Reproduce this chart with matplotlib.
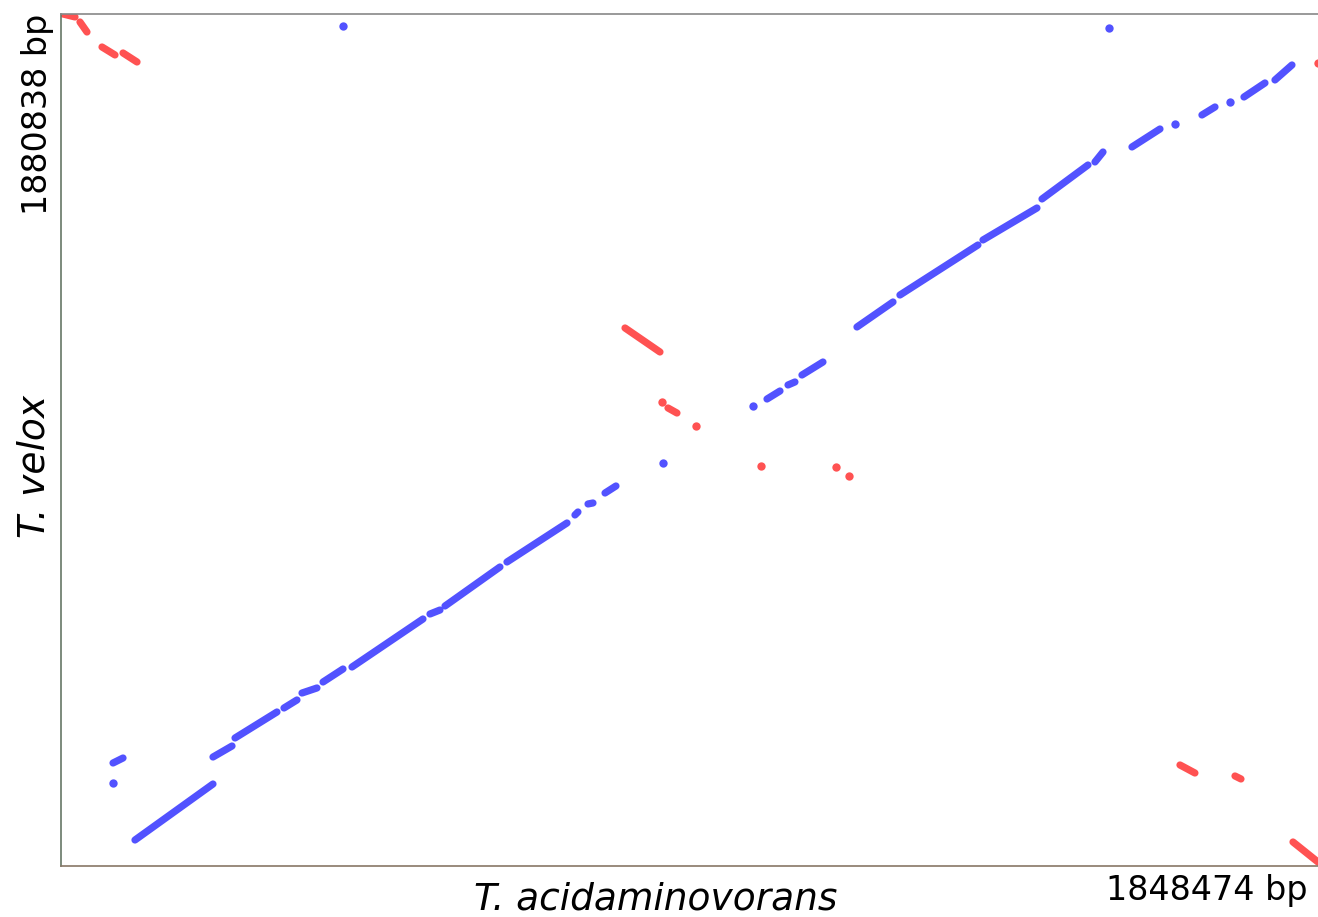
import matplotlib
matplotlib.use("Agg")
import matplotlib.pyplot as plt

# genome lengths (bp)
x_len = 1848474
y_len = 1880838
x_name = "T. acidaminovorans"
y_name = "T. velox"

# forward alignments (blue): x1, y1, x2, y2
fwd_x1 = [108800, 223500, 255900, 327900, 354400, 385300, 427900, 542600, 564700, 655800,
          755800, 775000, 800000, 1038200, 1069100, 1089600, 1170500, 1233700, 1355800, 1442600,
          1520500, 1574900, 1677800, 1739600, 1785200, 76500]
fwd_y1 = [57400, 240600, 282600, 348800, 381900, 406200, 439300, 556300, 574000, 671100,
          774900, 799200, 823400, 1030900, 1061900, 1083900, 1189900, 1260500, 1382000, 1472500,
          1554200, 1587300, 1657900, 1697600, 1735200, 227400]
fwd_x2 = [223500, 251500, 317600, 347000, 376400, 414700, 532300, 557300, 645500, 744100,
          760200, 782300, 816100, 1057300, 1079300, 1120500, 1223500, 1348400, 1435200, 1510200,
          1532300, 1616100, 1697000, 1770500, 1810200, 91200]
fwd_y2 = [181000, 264900, 340000, 366500, 393000, 434900, 545300, 565100, 660100, 757200,
          781500, 801400, 838900, 1048600, 1068500, 1112600, 1245100, 1370900, 1452600, 1547500,
          1576200, 1627000, 1675600, 1728600, 1768300, 238400]
# forward single hits
fwd_dot_x = [885200, 1017600, 1638100, 1719000, 76500, 414700, 1541100]
fwd_dot_y = [889700, 1015500, 1638000, 1686600, 183200, 1854400, 1850000]

# reverse alignments (red): x1, y1, x2, y2
rev_x1 = [2900, 27900, 60300, 91200, 829400, 892600, 1645500, 1726400, 1811700]
rev_y1 = [1880800, 1863200, 1808000, 1794800, 1187700, 1011100, 223000, 198700, 53000]
rev_x2 = [20600, 38200, 79400, 111800, 880800, 905800, 1667500, 1735200, 1848400]
rev_y2 = [1874300, 1841100, 1790400, 1774900, 1134700, 1000000, 205300, 192100, 8800]
rev_dot_x = [883800, 933800, 1029400, 1139600, 1158800, 1848000]
rev_dot_y = [1024300, 971300, 883000, 880800, 861000, 1772700]

BLUE = "#5252ff"
RED = "#ff5252"

fig = plt.figure(figsize=(13.18, 9.17), dpi=100)
ax = fig.add_axes([61 / 1318, 51 / 917, 1257 / 1318, 852 / 917])

lw = 5.2
ms = 6.0
for a, b, c, d in zip(fwd_x1, fwd_y1, fwd_x2, fwd_y2):
    ax.plot([a, c], [b, d], color=BLUE, lw=lw, solid_capstyle="round", clip_on=True)
ax.plot(fwd_dot_x, fwd_dot_y, "o", color=BLUE, ms=ms, mew=0)
for a, b, c, d in zip(rev_x1, rev_y1, rev_x2, rev_y2):
    ax.plot([a, c], [b, d], color=RED, lw=lw, solid_capstyle="round", clip_on=True)
ax.plot(rev_dot_x, rev_dot_y, "o", color=RED, ms=ms, mew=0)

ax.set_xlim(0, x_len)
ax.set_ylim(0, y_len)
ax.set_xticks([])
ax.set_yticks([])
ax.spines["right"].set_visible(False)
ax.spines["left"].set_color("#667766")
ax.spines["top"].set_color("#888888")
ax.spines["bottom"].set_color("#887766")
for s in ("left", "top", "bottom"):
    ax.spines[s].set_linewidth(1.2)

fig.text(656 / 1318, 7 / 917, x_name, fontsize=27, style="italic",
         ha="center", va="baseline")
fig.text(1308 / 1318, 17 / 917, f"{x_len} bp", fontsize=24,
         ha="right", va="baseline")
fig.text(47 / 1318, 1 - 14 / 917, f"{y_len} bp", fontsize=24, rotation=90,
         rotation_mode="anchor", ha="right", va="baseline")
fig.text(45 / 1318, 1 - 466 / 917, y_name, fontsize=27, style="italic", rotation=90,
         rotation_mode="anchor", ha="center", va="baseline")

fig.savefig("out.png", dpi=100)
